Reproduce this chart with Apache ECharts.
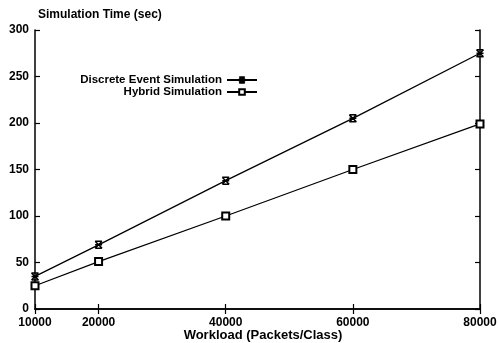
<!DOCTYPE html>
<html><head><meta charset="utf-8">
<script src="https://cdn.jsdelivr.net/npm/echarts@6/dist/echarts.min.js"></script>
<style>html,body{margin:0;padding:0;background:#fff}#c{width:499px;height:343px}</style>
</head><body><div id="c"></div>
<script>
const workload = [10000, 20000, 40000, 60000, 80000];
const desTime = [35, 69, 138, 205, 275];
const hybridTime = [25, 51, 100, 150, 199];
const seriesNames = ['Discrete Event Simulation', 'Hybrid Simulation'];
const xTicks = [10000, 20000, 40000, 60000, 80000];
const yTitle = 'Simulation Time (sec)';
const xTitle = 'Workload (Packets/Class)';

const font = 'Liberation Sans, Arial, sans-serif';
const axisLine = {show: true, lineStyle: {color: '#000', width: 1.5}};
const tick = {show: true, inside: true, length: 5, lineStyle: {color: '#000', width: 1.2}};
const chart = echarts.init(document.getElementById('c'));
chart.setOption({
  animation: false,
  backgroundColor: '#fff',
  textStyle: {fontFamily: font},
  title: {text: yTitle, left: 33, top: 4, textStyle: {fontFamily: font, fontSize: 12, fontWeight: 'bold', color: '#000'}},
  graphic: [{
    type: 'text', x: 263, y: 335,
    style: {text: xTitle, fill: '#000', font: 'bold 13px Liberation Sans, Arial, sans-serif', textAlign: 'center', textVerticalAlign: 'middle'}
  }],
  grid: {left: 35, right: 19, top: 30, bottom: 34, containLabel: false, outerBoundsMode: 'none'},
  legend: {
    orient: 'vertical', align: 'right', right: 236, top: 69, itemGap: 0,
    itemWidth: 30, itemHeight: 7,
    textStyle: {fontFamily: font, fontSize: 11.5, fontWeight: 'bold', color: '#000'},
    data: seriesNames
  },
  xAxis: [{
    type: 'value', min: 10000, max: 80000, interval: 10000,
    axisLine: axisLine,
    axisTick: Object.assign({}, tick, {customValues: xTicks}),
    axisLabel: {customValues: xTicks, color: '#000', fontSize: 12, fontWeight: 'bold', fontFamily: font, margin: 8, formatter: v => String(v)},
    splitLine: {show: false}
  }, {
    type: 'value', min: 10000, max: 80000, interval: 10000, position: 'top',
    axisLine: axisLine,
    axisTick: Object.assign({}, tick, {customValues: xTicks}),
    axisLabel: {show: false}, splitLine: {show: false}
  }],
  yAxis: [{
    type: 'value', min: 0, max: 300, interval: 50,
    axisLine: axisLine, axisTick: tick,
    axisLabel: {color: '#000', fontSize: 12, fontWeight: 'bold', fontFamily: font, margin: 6},
    splitLine: {show: false}
  }, {
    type: 'value', min: 0, max: 300, interval: 50, position: 'right',
    axisLine: axisLine, axisTick: tick,
    axisLabel: {show: false}, splitLine: {show: false}
  }],
  series: [{
    name: seriesNames[0], type: 'line',
    data: workload.map((w, i) => [w, desTime[i]]),
    symbol: 'path://M0,0L10,10M10,0L0,10M0,5L10,5M0,0L10,0M0,10L10,10',
    symbolSize: 7,
    lineStyle: {color: '#000', width: 1.3},
    itemStyle: {color: '#000', borderColor: '#000', borderWidth: 1.5}
  }, {
    name: seriesNames[1], type: 'line',
    data: workload.map((w, i) => [w, hybridTime[i]]),
    symbol: 'emptyRect', symbolSize: 7,
    lineStyle: {color: '#000', width: 1.3},
    itemStyle: {color: '#000', borderColor: '#000', borderWidth: 1.2}
  }]
});
</script></body></html>
